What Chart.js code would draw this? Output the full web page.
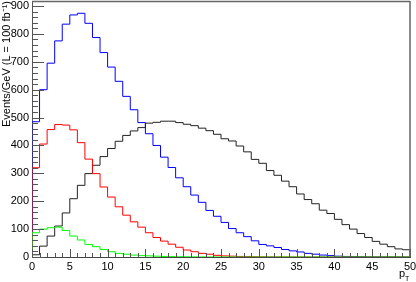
<!DOCTYPE html>
<html><head><meta charset="utf-8">
<script src="https://cdn.jsdelivr.net/npm/chart.js@4.4.1/dist/chart.umd.min.js"></script>
<style>html,body{margin:0;padding:0;background:#fff;overflow:hidden}#wrap{width:416px;height:282px}</style>
</head><body><div id="wrap"><canvas id="c" width="416" height="282"></canvas></div>
<script>
// pT bins: 50 bins of width 1 GeV from 0 to 50
const binEdges = [0,1,2,3,4,5,6,7,8,9,10,11,12,13,14,15,16,17,18,19,20,21,22,23,24,25,26,27,28,29,30,31,32,33,34,35,36,37,38,39,40,41,42,43,44,45,46,47,48,49,50];
const blackValues = [8,39,75,111,158,209,257,299,329,360,389,415,436,452,464,480,483,487,487,482,476,471,462,453,440,424,416,398,377,350,336,310,293,272,252,226,206,191,168,156,135,116,100,84,70,56,46,37,29,26];
const blueValues  = [485,600,695,775,835,868,874,838,787,733,681,630,576,528,482,442,400,358,321,284,252,222,196,167,146,124,102,87,73,58,45,40,34,27,22,18,13,10,7,5,3,2,1.5,1,0.7,0.5,0.3,0.2,0.1,0.1];
const redValues   = [320,405,457,475,473,456,410,351,299,251,215,180,150,126,107,87,70,57,46,35,25,19,13,10,6,4,3,2,1.5,1,0.7,0.5,0.3,0.2,0.1,0.1,0,0,0,0,0,0,0,0,0,0,0,0,0,0];
const greenValues = [87,100,105,107,95,75,61,45,37,27,19,13,10,7,5,4,3,2,1.5,1,0.7,0.5,0.3,0.2,0.1,0.1,0,0,0,0,0,0,0,0,0,0,0,0,0,0,0,0,0,0,0,0,0,0,0,0];
const xTickLabels = [0,5,10,15,20,25,30,35,40,45,50];
const xMinorTicks = binEdges;
const yTickLabels = [0,100,200,300,400,500,600,700,800,900];
const yMinorTicks = [0,20,40,60,80,100,120,140,160,180,200,220,240,260,280,300,320,340,360,380,400,420,440,460,480,500,520,540,560,580,600,620,640,660,680,700,720,740,760,780,800,820,840,860,880,900];
const yMax = 918;
const yTitle = 'Events/GeV (L = 100 fb\u207B\u00B9)';

function histPoints(vals){
  const pts = [{x: binEdges[0], y: 0}];
  vals.forEach((v,i)=>pts.push({x: binEdges[i], y: v}));
  pts.push({x: binEdges[vals.length], y: vals[vals.length-1]});
  pts.push({x: binEdges[vals.length], y: 0});
  return pts;
}
function ds(vals, color, order){
  return {data: histPoints(vals), borderColor: color, borderWidth: 1, stepped: 'before',
          pointRadius: 0, fill: false, tension: 0, order: order};
}
const FONT = '"Liberation Sans", Arial, Helvetica, sans-serif';

const decorations = {
  id: 'decorations',
  afterDatasetsDraw(chart){
    const {ctx, chartArea: a, scales: {x, y}} = chart;
    ctx.save();
    ctx.strokeStyle = '#555';
    ctx.lineWidth = 1;
    ctx.beginPath();
    xMinorTicks.forEach(v=>{
      const px = Math.round(x.getPixelForValue(v)) + 0.5;
      const len = xTickLabels.includes(v) ? 8 : 4;
      ctx.moveTo(px, a.bottom); ctx.lineTo(px, a.bottom - len);
    });
    yMinorTicks.forEach(v=>{
      const py = Math.round(y.getPixelForValue(v)) + 0.5;
      const len = yTickLabels.includes(v) ? 12 : 6;
      ctx.moveTo(a.left, py); ctx.lineTo(a.left + len, py);
    });
    ctx.stroke();
    // frame
    ctx.strokeStyle = '#666';
    ctx.lineWidth = 1.5;
    ctx.beginPath();
    ctx.moveTo(a.left, a.top + 0.5); ctx.lineTo(a.right, a.top + 0.5);
    ctx.moveTo(a.right, a.top); ctx.lineTo(a.right, a.bottom);
    ctx.stroke();
    // axis title p_T
    ctx.fillStyle = '#000';
    ctx.textBaseline = 'alphabetic';
    ctx.textAlign = 'left';
    ctx.font = '11px ' + FONT;
    ctx.fillText('p', 399, 277);
    ctx.font = '7px ' + FONT;
    ctx.fillText('T', 405, 281);
    ctx.restore();
  }
};

new Chart(document.getElementById('c'), {
  type: 'line',
  data: { datasets: [
    ds(greenValues, '#00ff00', 0),
    ds(redValues, '#ff0000', 1),
    ds(blueValues, '#0000ff', 2),
    ds(blackValues, '#222222', 3)
  ]},
  options: {
    responsive: false, animation: false, devicePixelRatio: 1,
    layout: { padding: { left: 0, right: 6, top: 1, bottom: 0 } },
    plugins: { legend: { display: false }, tooltip: { enabled: false } },
    scales: {
      x: {
        type: 'linear', min: 0, max: 50,
        grid: { display: true, drawOnChartArea: false, drawTicks: false },
        border: { display: true, color: '#444', width: 1 },
        ticks: { color: '#000', font: { family: FONT, size: 11 }, padding: 3, maxRotation: 0, autoSkip: false },
        afterBuildTicks(s){ s.ticks = xTickLabels.map(v=>({value: v})); },
        afterFit(s){ s.height = 25; s.paddingLeft = 0; s.paddingRight = 0; }
      },
      y: {
        type: 'linear', min: 0, max: yMax,
        grid: { display: true, drawOnChartArea: false, drawTicks: false },
        border: { display: true, color: '#555', width: 1 },
        ticks: { color: '#000', font: { family: FONT, size: 11 }, padding: 3, autoSkip: false },
        afterBuildTicks(s){ s.ticks = yTickLabels.map(v=>({value: v})); },
        title: { display: true, text: yTitle, align: 'end', color: '#000', font: { family: FONT, size: 11 }, padding: 0 },
        afterFit(s){ s.width = 32; s.paddingTop = 0; s.paddingBottom = 0; }
      }
    }
  },
  plugins: [decorations]
});
</script>
</body></html>
